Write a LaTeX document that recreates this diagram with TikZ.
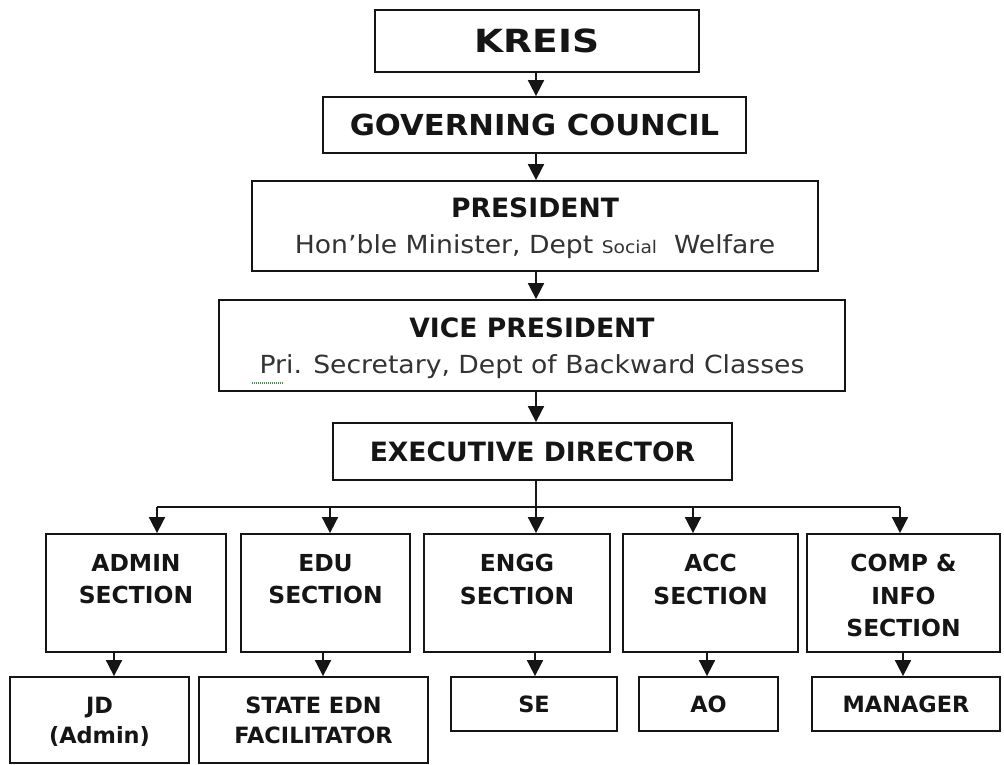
\documentclass[tikz,border=0pt]{standalone}
\usepackage{fontspec}
\setmainfont{DejaVu Sans}
\newfontfamily\kreisfont[FakeStretch=1.18]{DejaVu Sans}
\newfontfamily\widefont[FakeStretch=1.06]{DejaVu Sans}
\newfontfamily\subfont[FakeStretch=1.07]{DejaVu Sans}
\usetikzlibrary{arrows.meta}
\definecolor{ink}{HTML}{151515}
\definecolor{subink}{HTML}{333333}
\definecolor{spellgreen}{HTML}{3C9A3C}
% top-aligned body of a section box: width, height, gap above first line, text
\newcommand\secbody[4]{\parbox[c][#2][t]{#1}{\vspace*{#3}\centering #4\par}}
\newcommand\subline[1]{{\subfont\mdseries\color{subink}\fontsize{25}{36}\selectfont #1}}

\begin{document}
\begin{tikzpicture}[x=1bp,y=-1bp,
  box/.style={draw=ink, line width=1.8bp, inner sep=0pt, align=center, text=ink},
  arr/.style={draw=ink, line width=1.8bp, -{Triangle[width=16bp,length=16bp]}},
  link/.style={draw=ink, line width=1.8bp},
  headfont/.style={font=\bfseries\fontsize{26.7}{36}\selectfont},
  secfont/.style={font=\bfseries\fontsize{23.5}{32.5}\selectfont},
  leaffont/.style={font=\bfseries\fontsize{22.5}{30}\selectfont},
  spell/.style={draw=spellgreen, line width=1.3bp, dash pattern=on 1bp off 1bp},
]
\useasboundingbox[fill=white] (0,0) rectangle (1004,765);

% upper chain of command
\node[box, minimum width=324bp, minimum height=62bp,
      font=\kreisfont\bfseries\fontsize{32}{36}\selectfont] (kreis) at (537,41) {KREIS};
\node[box, minimum width=423bp, minimum height=56bp,
      font=\widefont\bfseries\fontsize{29}{34}\selectfont] (gc) at (534.5,125) {GOVERNING COUNCIL};
\node[box, minimum width=566bp, minimum height=90bp, headfont, text depth=0pt] (pres) at (535,226)
  {PRESIDENT\\\subline{Hon’ble Minister, Dept {\fontsize{17.5}{36}\selectfont Social}\ \ Welfare}};
\node[box, minimum width=626bp, minimum height=91bp, headfont, text depth=0pt] (vp) at (532,345.5)
  {VICE PRESIDENT\\\subline{Pri. Secretary, Dept of Backward Classes}};
\node[box, minimum width=399bp, minimum height=57bp, headfont] (ed) at (532.5,451.5) {EXECUTIVE DIRECTOR};

% proofing mark under the abbreviation
\draw[spell] ([xshift=34bp,yshift=9bp]vp.south west) -- ++(31,0);

% sections
\node[box, secfont] (admin) at (136,593)   {\secbody{180bp}{118bp}{20.5bp}{ADMIN\\SECTION}};
\node[box, secfont] (edu)   at (325.5,593) {\secbody{169bp}{118bp}{20.5bp}{EDU\\SECTION}};
\node[box, secfont] (engg)  at (517,593)   {\secbody{186bp}{118bp}{20.5bp}{ENGG\\SECTION}};
\node[box, secfont] (acc)   at (710.5,593) {\secbody{175bp}{118bp}{20.5bp}{ACC\\SECTION}};
\node[box, secfont] (comp)  at (903.5,593) {\secbody{193bp}{118bp}{20.5bp}{COMP \&\\INFO\\SECTION}};

% officers
\node[box, leaffont, minimum width=179bp, minimum height=86bp, text depth=0pt] (jd) at (99.5,720) {JD\\(Admin)};
\node[box, leaffont, minimum width=229bp, minimum height=86bp] (sef) at (313.5,720) {STATE EDN\\FACILITATOR};
\node[box, leaffont, minimum width=166bp, minimum height=54bp] (se) at (534,704) {SE};
\node[box, leaffont, minimum width=139bp, minimum height=54bp] (ao) at (708.5,704) {AO};
\node[box, leaffont, minimum width=188bp, minimum height=54bp] (mgr) at (906,704) {MANAGER};

% main spine
\coordinate (spine) at (536,0);
\draw[arr] (kreis.south -| spine) -- (gc.north -| spine);
\draw[arr] (gc.south -| spine) -- (pres.north -| spine);
\draw[arr] (pres.south -| spine) -- (vp.north -| spine);
\draw[arr] (vp.south -| spine) -- (ed.north -| spine);
\draw[arr] (ed.south -| spine) -- (engg.north -| spine);

% distribution bar to the sections
\coordinate (d1) at (157,507);
\coordinate (d2) at (330,507);
\coordinate (d4) at (693,507);
\coordinate (d5) at (900,507);
\draw[link] (d1) -- (d5);
\draw[arr] (d1) -- (d1 |- admin.north);
\draw[arr] (d2) -- (d2 |- edu.north);
\draw[arr] (d4) -- (d4 |- acc.north);
\draw[arr] (d5) -- (d5 |- comp.north);

% sections to their officers
\coordinate (l1) at (114,0);
\coordinate (l2) at (323,0);
\coordinate (l3) at (535,0);
\coordinate (l4) at (707,0);
\coordinate (l5) at (903,0);
\draw[arr] (l1 |- admin.south) -- (l1 |- jd.north);
\draw[arr] (l2 |- edu.south) -- (l2 |- sef.north);
\draw[arr] (l3 |- engg.south) -- (l3 |- se.north);
\draw[arr] (l4 |- acc.south) -- (l4 |- ao.north);
\draw[arr] (l5 |- comp.south) -- (l5 |- mgr.north);
\end{tikzpicture}
\end{document}
